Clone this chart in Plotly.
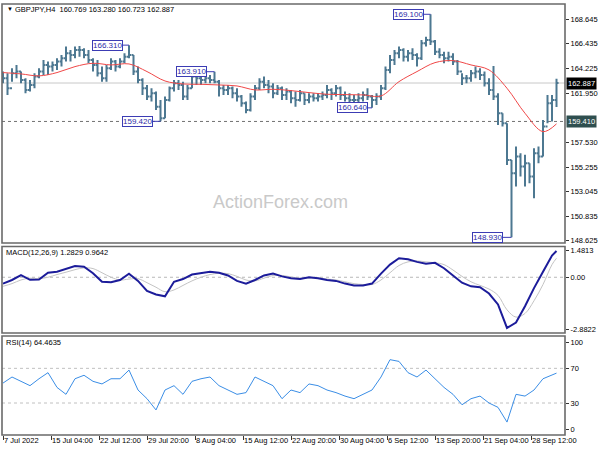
import plotly.graph_objects as go

# ---------------- DATA ----------------
# price bars (each bar = 3 H4 periods)
highs = [163.92,163.77,164.22,164.52,163.92,163.31,163.16,163.77,164.22,164.97,
         164.82,164.82,165.12,165.42,166.18,165.87,166.18,166.24,166.03,165.87,
         165.12,164.97,164.37,164.52,165.12,164.97,165.12,165.57,166.31,165.42,
         164.37,163.31,162.71,162.41,162.11,161.36,161.66,162.56,163.16,163.16,
         163.01,162.71,163.77,163.77,163.62,163.77,163.62,163.91,163.16,162.71,
         162.71,162.56,162.41,161.81,161.21,161.96,162.71,163.31,163.47,163.16,
         162.86,162.71,162.56,162.41,162.26,162.11,162.26,161.96,161.96,161.96,
         161.96,162.11,162.71,162.41,162.71,162.56,162.11,161.96,161.81,161.96,
         162.11,162.41,161.81,161.96,162.71,164.37,165.42,165.87,166.18,166.03,
         165.87,166.03,165.57,166.78,167.08,169.10,166.78,166.03,165.72,165.72,
         165.57,164.97,163.77,163.62,164.07,164.37,164.22,163.92,163.31,164.43,
         161.96,160.15,159.25,155.93,157.14,156.54,156.39,155.63,156.99,157.14,
         159.55,161.81,161.81,163.28]
lows = [162.86,161.81,163.01,163.31,162.86,161.96,162.11,162.41,163.31,163.62,
        163.62,163.92,164.07,164.37,164.82,164.82,165.12,165.27,165.12,164.67,
        163.92,163.47,163.01,163.01,164.07,163.92,164.22,164.67,165.12,163.62,
        162.86,161.81,161.36,161.21,160.45,159.42,159.70,161.21,162.11,162.26,
        161.36,161.36,162.41,162.71,162.71,162.86,162.86,162.86,161.66,161.81,
        161.81,161.51,161.21,160.75,160.15,160.30,161.36,162.26,162.41,161.96,
        161.51,161.81,161.36,161.36,161.06,160.75,161.21,160.90,161.06,161.21,
        161.21,161.36,161.51,161.36,161.66,161.36,161.21,160.90,160.75,161.06,
        161.21,161.36,160.64,160.90,161.36,162.26,163.77,164.52,165.12,164.82,
        164.82,164.97,164.37,164.97,166.18,166.33,165.42,165.12,164.67,164.82,
        164.52,163.62,162.71,162.86,163.01,163.31,163.16,162.56,161.81,161.36,
        159.10,158.95,155.48,148.93,153.53,154.43,153.53,153.83,152.47,155.63,
        156.24,159.25,159.40,160.72]
closes = [163.31,162.41,163.77,163.92,163.16,162.26,162.71,163.47,163.92,164.52,
          164.37,164.52,164.82,165.12,165.57,165.42,165.87,165.87,165.42,164.97,
          164.52,163.77,163.31,164.22,164.82,164.37,164.82,165.27,165.42,163.92,
          163.16,162.41,161.66,161.96,160.75,159.70,161.36,162.41,162.86,162.71,
          161.66,162.41,163.47,163.31,163.16,163.31,163.16,163.01,162.41,162.26,
          162.41,161.96,161.66,161.06,160.45,161.66,162.41,163.01,162.71,162.56,
          161.96,162.41,161.81,162.11,161.51,161.36,161.96,161.36,161.66,161.51,
          161.66,161.81,162.26,161.96,162.41,161.81,161.51,161.36,161.36,161.51,
          161.81,161.66,161.36,161.66,162.41,164.07,164.97,165.57,165.87,165.27,
          165.57,165.42,165.12,166.48,166.78,166.63,165.72,165.42,165.12,165.27,
          164.82,163.92,163.31,163.31,163.77,163.92,163.62,162.86,162.26,161.66,
          160.15,159.25,155.93,154.73,156.24,155.33,155.63,154.43,156.54,156.24,
          158.95,161.06,161.36,162.887]
first_open = 163.60
opens = [first_open] + closes[:-1]

# moving average (red), sampled every 4 bars
ma_idx = [0,4,8,12,16,20,24,28,32,36,40,44,48,52,56,60,64,68,72,76,80,84,88,92,96,
          100,104,108,112,116,120,123]
ma_vals = [163.83,163.71,163.53,163.83,164.37,164.67,164.52,164.61,163.92,163.07,
           162.80,162.77,162.71,162.62,162.26,162.32,162.20,162.02,161.87,161.84,
           161.81,161.72,163.01,163.92,164.73,164.91,164.52,164.07,162.41,160.15,
           158.49,159.19]

# MACD main + signal, sampled every 2 bars
ind_idx = list(range(0, 124, 2)) + [123]
macd_vals = [-0.35,-0.15,0.12,-0.14,-0.12,0.25,0.31,0.48,0.62,0.58,
             0.22,-0.25,-0.28,-0.15,0.20,-0.20,-0.75,-0.95,-1.05,-0.25,
             -0.10,0.15,0.23,0.30,0.25,0.10,-0.20,-0.35,-0.15,0.10,
             0.20,0.05,-0.05,-0.10,0.00,-0.05,-0.15,-0.20,-0.35,-0.45,
             -0.45,-0.35,0.20,0.70,1.05,1.00,0.85,0.75,0.80,0.50,
             0.10,-0.30,-0.50,-0.55,-0.90,-1.50,-2.80,-2.50,-1.60,-0.60,
             0.30,1.20,1.45]
signal_vals = [-0.50,-0.35,-0.15,-0.05,-0.08,0.00,0.15,0.28,0.42,0.52,
               0.48,0.25,0.00,-0.15,-0.10,-0.08,-0.30,-0.55,-0.80,-0.70,
               -0.45,-0.20,0.00,0.15,0.22,0.20,0.05,-0.15,-0.20,-0.05,
               0.10,0.10,0.02,-0.05,-0.04,-0.04,-0.10,-0.15,-0.25,-0.35,
               -0.40,-0.40,-0.15,0.25,0.65,0.85,0.90,0.85,0.80,0.70,
               0.40,0.05,-0.25,-0.45,-0.65,-1.00,-1.80,-2.20,-2.00,-1.30,
               -0.40,0.70,1.05]

# RSI(14), sampled every 2 bars
rsi_vals = [53,60,55,50,58,65,48,40,58,62,
            55,52,58,58,68,45,35,22,45,50,
            40,55,58,60,50,45,40,42,60,55,
            50,35,45,42,52,50,45,42,38,35,
            40,45,60,80,78,65,60,68,58,48,
            40,28,35,38,30,25,8,40,38,45,
            58,62,64.46]

# swing labels
mark_idx = [28, 35, 47, 82, 95, 113]
mark_price = [166.31, 159.42, 163.91, 160.64, 169.10, 148.93]
mark_shift = [-22, -23, -23, -20, -22, -24]

# axes
main_ticks = [168.645, 166.435, 164.225, 161.950, 157.530, 155.255, 153.045, 150.835, 148.625]
macd_ticks = [1.4813, 0.0, -2.8822]
macd_ticktext = ["1.4813", "0.00", "-2.8822"]
rsi_ticks = [100, 70, 30, 0]
x_tick_h4 = [0, 32, 64, 96, 128, 160, 192, 224, 256, 288, 320, 352]
x_tick_labels = ["7 Jul 2022", "15 Jul 04:00", "22 Jul 12:00", "29 Jul 20:00", "8 Aug 04:00",
                 "15 Aug 12:00", "22 Aug 20:00", "30 Aug 04:00", "6 Sep 12:00",
                 "13 Sep 20:00", "21 Sep 04:00", "28 Sep 12:00"]
last_price = 162.887
level_line = 159.41
header = "GBPJPY,H4  160.769 163.280 160.723 162.887"
macd_title = "MACD(12,26,9) 1.2829 0.9642"
rsi_title = "RSI(14) 64.4635"

# ---------------- LAYOUT helpers ----------------
W, H = 600, 450
ML, MR, MT, MB = 2, 35, 4, 15
PW, PH = W - ML - MR, H - MT - MB
def px_x(px):
    return (px - ML) / PW
def px_y(py):
    return (H - MB - py) / PH

main_dom = [px_y(243), px_y(4)]
macd_dom = [px_y(333), px_y(246.5)]
rsi_dom = [px_y(435), px_y(336)]

FONT = "Liberation Sans, Arial, sans-serif"
bar_col = "#4d7891"
idx = list(range(len(closes)))

fig = go.Figure()
fig.add_trace(go.Ohlc(x=idx, open=opens, high=highs, low=lows, close=closes,
                      increasing_line_color=bar_col, decreasing_line_color=bar_col,
                      line_width=2, tickwidth=0.45, xaxis="x", yaxis="y",
                      hoverinfo="skip"))
fig.add_trace(go.Scatter(x=ma_idx, y=ma_vals, mode="lines",
                         line=dict(color="#f04848", width=1, shape="spline"),
                         xaxis="x", yaxis="y", hoverinfo="skip"))
fig.add_trace(go.Scatter(x=ind_idx, y=signal_vals, mode="lines",
                         line=dict(color="#c4c4c4", width=1, shape="spline"),
                         xaxis="x", yaxis="y2", hoverinfo="skip"))
fig.add_trace(go.Scatter(x=ind_idx, y=macd_vals, mode="lines",
                         line=dict(color="#1c1c9a", width=2),
                         xaxis="x", yaxis="y2", hoverinfo="skip"))
fig.add_trace(go.Scatter(x=ind_idx, y=rsi_vals, mode="lines",
                         line=dict(color="#3b8ee6", width=1),
                         xaxis="x", yaxis="y3", hoverinfo="skip"))

x_lo = (ML - 3) / 4.5
x_hi = (ML + PW - 3) / 4.5
xtick_vals = [k / 3 for k in x_tick_h4]

axis_font = dict(family=FONT, size=7.5, color="black")
fig.update_layout(
    width=W, height=H, margin=dict(l=ML, r=MR, t=MT, b=MB, autoexpand=False),
    paper_bgcolor="white", plot_bgcolor="white", showlegend=False,
    xaxis=dict(domain=[0, 1], range=[x_lo, x_hi], anchor="y3",
               tickvals=xtick_vals, ticktext=[""] * len(xtick_vals),
               ticks="outside", ticklen=4, tickcolor="#333",
               showgrid=False, zeroline=False, showline=False,
               rangeslider=dict(visible=False), fixedrange=True),
    yaxis=dict(domain=main_dom, range=[148.42, 170.03], side="right", anchor="x",
               tickvals=main_ticks, ticktext=[f"{v:.3f}" for v in main_ticks],
               ticks="outside", ticklen=3, tickcolor="#333", tickfont=axis_font,
               showgrid=False, zeroline=False, showline=False),
    yaxis2=dict(domain=macd_dom, range=[-3.08, 1.70], side="right", anchor="x",
                tickvals=macd_ticks, ticktext=macd_ticktext,
                ticks="outside", ticklen=3, tickcolor="#333", tickfont=axis_font,
                showgrid=False, zeroline=False, showline=False),
    yaxis3=dict(domain=rsi_dom, range=[-6.9, 107.3], side="right", anchor="x",
                tickvals=rsi_ticks, ticktext=[str(v) for v in rsi_ticks],
                ticks="outside", ticklen=3, tickcolor="#333", tickfont=axis_font,
                showgrid=False, zeroline=False, showline=False),
)

shapes = []
# reference lines
shapes.append(dict(type="line", xref="paper", yref="y", x0=0, x1=1, y0=last_price, y1=last_price,
                   line=dict(color="#c8c8c8", width=1), layer="below"))
shapes.append(dict(type="line", xref="paper", yref="y", x0=0, x1=1, y0=level_line, y1=level_line,
                   line=dict(color="#707070", width=1, dash="dot"), layer="below"))
shapes.append(dict(type="line", xref="paper", yref="y2", x0=0, x1=1, y0=0, y1=0,
                   line=dict(color="#b8b8b8", width=1, dash="dot"), layer="below"))
for lv in (70, 30):
    shapes.append(dict(type="line", xref="paper", yref="y3", x0=0, x1=1, y0=lv, y1=lv,
                       line=dict(color="#c0c0c0", width=1, dash="dot"), layer="below"))
# panel frames
for dom in (main_dom, macd_dom, rsi_dom):
    shapes.append(dict(type="rect", xref="paper", yref="paper", x0=0, x1=1, y0=dom[0], y1=dom[1],
                       line=dict(color="#6a6a6a", width=1.6), fillcolor="rgba(0,0,0,0)"))
fig.update_layout(shapes=shapes)

ann = []
# header / indicator titles
ann.append(dict(xref="paper", yref="paper", x=px_x(5), y=px_y(9), text="▼", showarrow=False,
                xanchor="left", yanchor="middle", font=dict(family=FONT, size=6, color="black")))
ann.append(dict(xref="paper", yref="paper", x=px_x(13), y=px_y(9), text=header, showarrow=False,
                xanchor="left", yanchor="middle", font=dict(family=FONT, size=7.5, color="black")))
ann.append(dict(xref="paper", yref="paper", x=px_x(4), y=px_y(252), text=macd_title, showarrow=False,
                xanchor="left", yanchor="middle", font=dict(family=FONT, size=7.5, color="black")))
ann.append(dict(xref="paper", yref="paper", x=px_x(4), y=px_y(342), text=rsi_title, showarrow=False,
                xanchor="left", yanchor="middle", font=dict(family=FONT, size=7.5, color="black")))
# watermark
ann.append(dict(xref="paper", yref="paper", x=px_x(280), y=px_y(202), text="ActionForex.com",
                showarrow=False, xanchor="center", yanchor="middle",
                font=dict(family=FONT, size=18, color="#c9c9c9")))
# x tick labels (left aligned at tick, MT4 style)
for v, t in zip(xtick_vals, x_tick_labels):
    ann.append(dict(xref="x", yref="paper", x=v, y=px_y(440), text=t, showarrow=False,
                    xanchor="left", yanchor="middle", xshift=-1,
                    font=dict(family=FONT, size=7.5, color="black")))
# swing labels
for i, p, s in zip(mark_idx, mark_price, mark_shift):
    ann.append(dict(xref="x", yref="y", x=i, y=p, text=f"{p:.3f}", showarrow=True,
                    arrowhead=0, arrowwidth=1, arrowcolor="#3c3cb4", ax=s, ay=0, standoff=0,
                    bgcolor="white", bordercolor="#3c3cb4", borderwidth=1, borderpad=0,
                    font=dict(family=FONT, size=8, color="#2c2ca8")))
# price tags on the right axis
ann.append(dict(xref="paper", yref="y", x=1, y=last_price, text=f"{last_price:.3f}", showarrow=False,
                xanchor="left", yanchor="middle", xshift=1, bgcolor="black", borderpad=1,
                font=dict(family=FONT, size=7.5, color="white")))
ann.append(dict(xref="paper", yref="y", x=1, y=level_line, text=f"{level_line:.3f}", showarrow=False,
                xanchor="left", yanchor="middle", xshift=1, bgcolor="#2f4f4f", borderpad=1,
                font=dict(family=FONT, size=7.5, color="white")))
fig.update_layout(annotations=ann)

fig.write_html("out.html", config={"displayModeBar": False},
               post_script="document.body.style.margin='0';")
